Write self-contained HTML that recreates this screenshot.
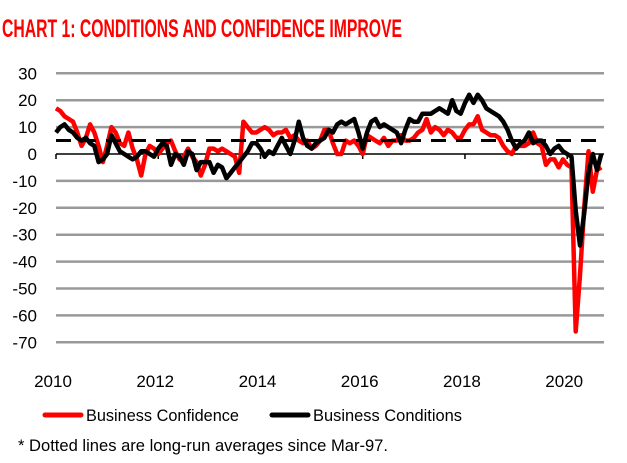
<!DOCTYPE html>
<html><head><meta charset="utf-8"><style>
body{margin:0;background:#fff;width:627px;height:463px;overflow:hidden;font-family:"Liberation Sans",sans-serif}
svg{display:block}
</style></head><body>
<svg width="627" height="463">
<text x="2" y="37" fill="#ff0000" font-family="Liberation Sans Narrow, Liberation Sans, sans-serif" font-weight="bold" font-size="25" textLength="400" lengthAdjust="spacingAndGlyphs">CHART 1: CONDITIONS AND CONFIDENCE IMPROVE</text>
<g id="grid"></g><g id="ylab"></g><g id="xlab"></g><g id="series"></g>
<g>
<line x1="45" y1="415" x2="81" y2="415" stroke="#ff0000" stroke-width="5" stroke-linecap="round"/>
<text x="86" y="421" font-size="17" textLength="153" lengthAdjust="spacingAndGlyphs">Business Confidence</text>
<line x1="272" y1="415" x2="308" y2="415" stroke="#000" stroke-width="5" stroke-linecap="round"/>
<text x="313" y="421" font-size="17" textLength="149" lengthAdjust="spacingAndGlyphs">Business Conditions</text>
</g>
<text x="18" y="451" font-size="17" textLength="370" lengthAdjust="spacingAndGlyphs">* Dotted lines are long-run averages since Mar-97.</text>
</svg>
<script>
const yTicks=[30,20,10,0,-10,-20,-30,-40,-50,-60,-70];
const xTickYears=[2010,2012,2014,2016,2018,2020];
const confidence=[17,16,14,13,12,8,3,6,11,8,3,-3,
3,10,8,4,3,8,2,-2,-8,0,3,2,
0,2,4,5,1,-2,-1,2,-1,-3,-8,-4,
2,2,1,2,1,0,-1,-7,12,10,8,8,
9,10,9,7,8,8,9,6,7,5,4,5,
2,3,5,9,9,4,0,0,5,4,5,3,
0,7,6,5,4,6,3,5,5,7,5,5,
6,8,9,13,8,10,9,7,9,8,6,6,
9,11,11,14,9,8,7,7,6,3,1,0,
3,3,3,4,8,4,3,-4,-2,-2,-5,-2,
-4,-5,-66,-45,-20,1,-14,-6,-5];
const conditions=[8,10,11,9,8,6,5,6,4,3,-3,-2,
0,7,4,1,0,-1,-2,-1,1,1,0,-1,
2,4,3,-4,0,-1,-4,1,0,-6,-3,-3,
-3,-7,-4,-5,-9,-7,-5,-3,-1,1,4,4,
2,-1,1,0,3,6,3,0,5,12,6,3,
2,4,5,6,9,8,11,12,11,12,13,8,
2,8,12,13,10,11,10,9,8,4,9,13,
12,12,15,15,15,16,17,16,15,20,16,15,
19,22,19,22,20,17,16,15,14,12,9,5,
2,4,5,8,4,5,5,3,0,2,3,1,
0,-1,-21,-34,-22,-7,0,-6,0];
const avgConfidence=5, avgConditions=5;
const NS='http://www.w3.org/2000/svg';
const x0=56,pxm=4.26,y0=154,pxu=2.69;
const X=m=>x0+m*pxm, Y=v=>y0-v*pxu;
function mk(t,a,p){const e=document.createElementNS(NS,t);for(const k in a)e.setAttribute(k,a[k]);p.appendChild(e);return e;}
const g=document.getElementById('grid'),yl=document.getElementById('ylab'),xl=document.getElementById('xlab'),s=document.getElementById('series');
yTicks.forEach(v=>{
 if(v!==0){const l=mk('line',{x1:56,x2:604,y1:Y(v),y2:Y(v),stroke:'#999','stroke-width':2.5},g);
 
 }
 const t=mk('text',{x:37,y:Y(v)+6,'text-anchor':'end','font-size':17},yl);t.textContent=v;
 
 
});
const ax=mk('line',{x1:56,x2:604,y1:y0,y2:y0,stroke:'#000','stroke-width':1.5},g);


xTickYears.forEach(yr=>{
 const m=(yr-2010)*12;
 const tk=mk('line',{x1:X(m),x2:X(m),y1:y0,y2:y0+5,stroke:'#000','stroke-width':1.5},g);
 
 
 const t=mk('text',{x:X(m)-3,y:387,'text-anchor':'middle','font-size':17},xl);t.textContent=yr;
 
 
});
const n=confidence.length-1;
const da=mk('line',{x1:56,x2:X(n),y1:Y(avgConfidence),y2:Y(avgConfidence),stroke:'#ff0000','stroke-width':3,'stroke-dasharray':'15 10'},s);


function path(arr,col,name){
 const d=arr.map((v,i)=>(i?'L':'M')+X(i).toFixed(1)+' '+Y(v).toFixed(1)).join(' ');
 const p=mk('path',{d:d,fill:'none',stroke:col,'stroke-width':4.5,'stroke-linejoin':'round'},s);
 
 
}
path(confidence,'#ff0000','business-confidence-line');
path(conditions,'#000','business-conditions-line');
const db=mk('line',{x1:56,x2:X(n),y1:Y(avgConditions),y2:Y(avgConditions),stroke:'#000','stroke-width':3,'stroke-dasharray':'15 10'},s);


</script>
</body></html>
